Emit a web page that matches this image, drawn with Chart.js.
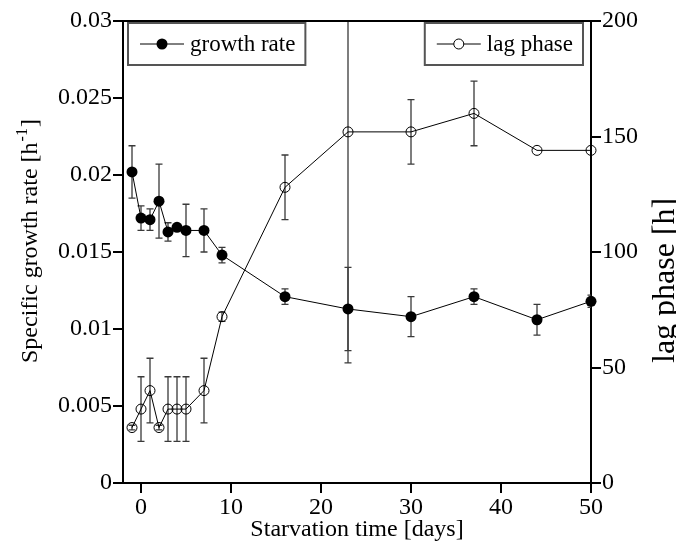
<!DOCTYPE html>
<html>
<head>
<meta charset="utf-8">
<script src="https://cdn.jsdelivr.net/npm/chart.js@4.4.1/dist/chart.umd.min.js"></script>
<style>
  html, body { margin: 0; padding: 0; background: #fff; font-family: "Liberation Serif", "DejaVu Serif", serif; }
  #wrap { width: 676px; height: 544px; position: relative; }
  .probe { position: absolute; left: -1000px; top: 0; font-family: "Liberation Serif"; font-size: 24px; }
</style>
</head>
<body>
<div id="wrap"><canvas id="c"></canvas></div>
<span class="probe">0.025 lag phase</span>
<script>
// ---- data ----
const days        = [-1, 0, 1, 2, 3, 4, 5, 7, 9, 16, 23, 30, 37, 44, 50];
const growthRate  = [0.0202, 0.0172, 0.0171, 0.0183, 0.0163, 0.0166, 0.0164, 0.0164, 0.0148, 0.0121, 0.0113, 0.0108, 0.0121, 0.0106, 0.0118];
const growthErr   = [0.0017, 0.0008, 0.0007, 0.0024, 0.0006, 0, 0.0017, 0.0014, 0.0005, 0.0005, 0.0027, 0.0013, 0.0005, 0.0010, 0.0004];
const lagPhase    = [24, 32, 40, 24, 32, 32, 32, 40, 72, 128, 152, 152, 160, 144, 144];
const lagErr      = [1, 14, 14, 1, 14, 14, 14, 14, 2, 14, 100, 14, 14, 0, 0];
const xTicks      = [0, 10, 20, 30, 40, 50];
const growthTicks = [0, 0.005, 0.01, 0.015, 0.02, 0.025, 0.03];
const lagTicks    = [0, 50, 100, 150, 200];
const seriesNames = ['growth rate', 'lag phase'];
const xTitle      = 'Starvation time [days]';
const yTitleMain  = 'Specific growth rate [h';
const yTitleSup   = '-1';
const yTitleEnd   = ']';
const y2Title     = 'lag phase [h]';

const FONT = '"Liberation Serif", "DejaVu Serif", serif';
const toPts = (ys) => days.map((d, i) => ({ x: d, y: ys[i] }));

const errorBars = {
  id: 'errorBars',
  beforeDatasetsDraw(chart) {
    const ctx = chart.ctx, a = chart.chartArea;
    const xs = chart.scales.x;
    const sets = [
      { sc: chart.scales.y, vals: growthRate, errs: growthErr },
      { sc: chart.scales.y2, vals: lagPhase, errs: lagErr }
    ];
    ctx.save();
    ctx.beginPath();
    ctx.rect(a.left, a.top - 1, a.right - a.left, a.bottom - a.top + 2);
    ctx.clip();
    ctx.strokeStyle = '#3a3a3a';
    ctx.lineWidth = 1.3;
    sets.forEach(s => {
      const max = s.sc.max, min = s.sc.min;
      days.forEach((d, i) => {
        const e = s.errs[i];
        if (!e) return;
        const px = xs.getPixelForValue(d);
        const hiV = s.vals[i] + e, loV = s.vals[i] - e;
        const yHi = s.sc.getPixelForValue(Math.min(hiV, max));
        const yLo = s.sc.getPixelForValue(Math.max(loV, min));
        ctx.beginPath();
        ctx.moveTo(px, yHi); ctx.lineTo(px, yLo);
        if (hiV <= max) { ctx.moveTo(px - 3.5, yHi); ctx.lineTo(px + 3.5, yHi); }
        if (loV >= min) { ctx.moveTo(px - 3.5, yLo); ctx.lineTo(px + 3.5, yLo); }
        ctx.stroke();
      });
    });
    ctx.restore();
  }
};

const decor = {
  id: 'decor',
  afterDraw(chart) {
    const ctx = chart.ctx, a = chart.chartArea;
    ctx.save();
    // top frame line
    ctx.strokeStyle = '#000';
    ctx.lineWidth = 2;
    ctx.beginPath();
    ctx.moveTo(a.left - 1, a.top); ctx.lineTo(a.right + 1, a.top);
    ctx.stroke();

    // legends (two boxes)
    ctx.font = '23px ' + FONT;
    ctx.textBaseline = 'middle';
    ctx.textAlign = 'left';
    const boxTop = a.top + 2, boxH = 42;
    const drawBox = (left, name, filled) => {
      const tw = ctx.measureText(name).width;
      const w = tw + 72;
      ctx.fillStyle = '#fff';
      ctx.fillRect(left, boxTop, w, boxH);
      ctx.strokeStyle = '#555';
      ctx.lineWidth = 2;
      ctx.strokeRect(left, boxTop, w, boxH);
      const cy = boxTop + boxH / 2;
      ctx.strokeStyle = '#000';
      ctx.lineWidth = 1;
      ctx.beginPath();
      ctx.moveTo(left + 12, cy); ctx.lineTo(left + 56, cy);
      ctx.stroke();
      ctx.beginPath();
      ctx.arc(left + 34, cy, filled ? 5.5 : 5, 0, Math.PI * 2);
      if (filled) { ctx.fillStyle = '#000'; ctx.fill(); }
      else { ctx.fillStyle = '#fff'; ctx.fill(); ctx.stroke(); }
      ctx.fillStyle = '#000';
      ctx.fillText(name, left + 62, cy + 1);
      return w;
    };
    drawBox(a.left + 5, seriesNames[0], true);
    const w2 = ctx.measureText(seriesNames[1]).width + 72;
    drawBox(a.right - 8 - w2, seriesNames[1], false);

    // axis titles
    ctx.font = '24px ' + FONT;
    ctx.fillStyle = '#000';
    ctx.textBaseline = 'middle';
    ctx.textAlign = 'center';
    ctx.fillText(xTitle, (a.left + a.right) / 2, a.bottom + 47);

    // left title with superscript
    ctx.save();
    ctx.translate(31, 363);
    ctx.rotate(-Math.PI / 2);
    ctx.textAlign = 'left';
    ctx.textBaseline = 'middle';
    ctx.font = '24px ' + FONT;
    const w1 = ctx.measureText(yTitleMain).width;
    ctx.fillText(yTitleMain, 0, 0);
    ctx.font = '16px ' + FONT;
    const ws = ctx.measureText(yTitleSup).width;
    ctx.fillText(yTitleSup, w1 + 1, -8);
    ctx.font = '24px ' + FONT;
    ctx.fillText(yTitleEnd, w1 + ws + 2, 0);
    ctx.restore();

    // right title (larger, runs up to the canvas edge)
    ctx.save();
    ctx.translate(674, 363);
    ctx.rotate(-Math.PI / 2);
    ctx.textAlign = 'left';
    ctx.textBaseline = 'alphabetic';
    ctx.font = '32px ' + FONT;
    ctx.fillText(y2Title, 0, 0);
    ctx.restore();
    ctx.restore();
  }
};

const tickFont = { family: FONT, size: 24 };
const gridOpts = { drawOnChartArea: false, drawTicks: true, tickLength: 10, color: '#000', lineWidth: 2 };
const borderOpts = { display: true, color: '#000', width: 2 };

function build() {
  Chart.defaults.font.family = FONT;
  new Chart(document.getElementById('c'), {
    type: 'scatter',
    data: {
      datasets: [
        {
          label: seriesNames[0],
          data: toPts(growthRate),
          yAxisID: 'y',
          showLine: true,
          borderColor: '#000',
          borderWidth: 1,
          pointRadius: 5.5,
          pointHoverRadius: 5.5,
          pointBackgroundColor: '#000',
          pointBorderColor: '#000',
          pointBorderWidth: 0,
          clip: false
        },
        {
          label: seriesNames[1],
          data: toPts(lagPhase),
          yAxisID: 'y2',
          showLine: true,
          borderColor: '#000',
          borderWidth: 1,
          pointRadius: 5,
          pointHoverRadius: 5,
          pointBackgroundColor: 'rgba(0,0,0,0)',
          pointBorderColor: '#000',
          pointBorderWidth: 1,
          clip: false
        }
      ]
    },
    options: {
      responsive: true,
      maintainAspectRatio: false,
      animation: false,
      events: [],
      layout: { padding: { top: 21, left: 0, right: 0, bottom: 0 } },
      plugins: { legend: { display: false }, tooltip: { enabled: false } },
      scales: {
        x: {
          type: 'linear',
          min: -2, max: 50,
          afterBuildTicks: s => { s.ticks = xTicks.map(v => ({ value: v })); },
          afterFit: s => { s.height = 61; },
          ticks: { font: tickFont, color: '#000', padding: 0, maxRotation: 0, callback: v => String(v) },
          grid: gridOpts,
          border: borderOpts
        },
        y: {
          type: 'linear',
          position: 'left',
          min: 0, max: 0.03,
          afterBuildTicks: s => { s.ticks = growthTicks.map(v => ({ value: v })); },
          afterFit: s => { s.width = 123; },
          ticks: { font: tickFont, color: '#000', padding: 1, callback: v => String(v) },
          grid: gridOpts,
          border: borderOpts
        },
        y2: {
          type: 'linear',
          position: 'right',
          min: 0, max: 200,
          afterBuildTicks: s => { s.ticks = lagTicks.map(v => ({ value: v })); },
          afterFit: s => { s.width = 85; },
          ticks: { font: tickFont, color: '#000', padding: 1, callback: v => String(v) },
          grid: gridOpts,
          border: borderOpts
        }
      }
    },
    plugins: [errorBars, decor]
  });
}

if (document.fonts && document.fonts.load) {
  Promise.all([
    document.fonts.load('24px "Liberation Serif"'),
    document.fonts.load('32px "Liberation Serif"')
  ]).then(build, build);
} else {
  build();
}
</script>
</body>
</html>
